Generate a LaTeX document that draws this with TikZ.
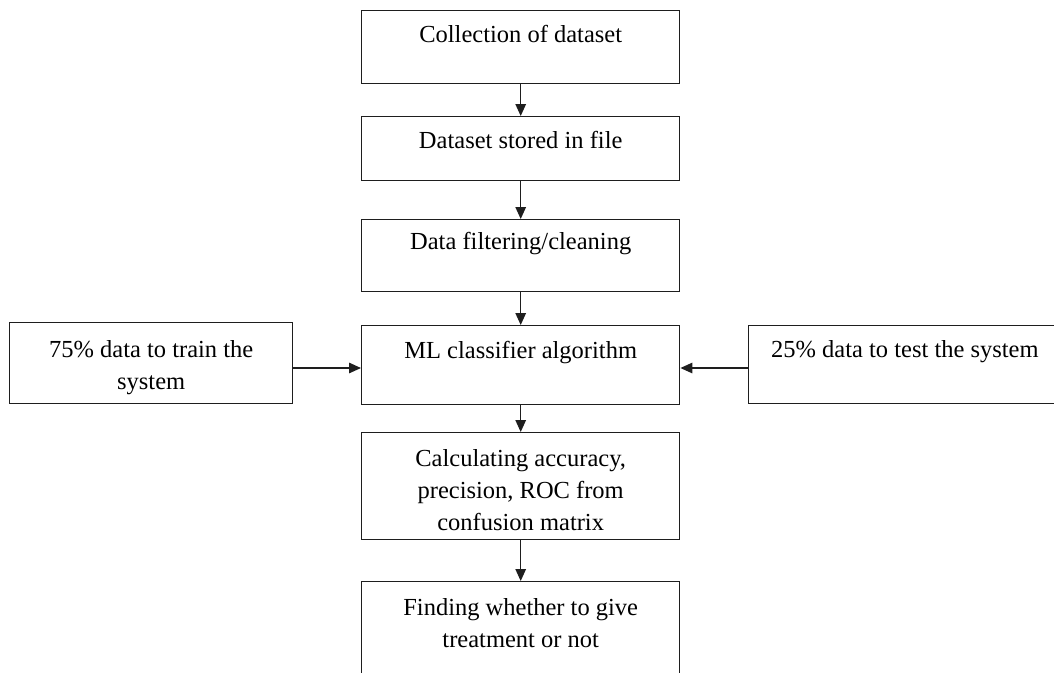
\documentclass[tikz,border=0pt]{standalone}
\usepackage{fontspec}
\setmainfont{Liberation Serif}
\usetikzlibrary{arrows.meta}
\definecolor{edge}{HTML}{1E1E1E}
\tikzset{
  box/.style={draw=edge, line width=1.4pt, inner sep=0pt, anchor=north west},
  txt/.style={anchor=base, inner sep=0pt, align=center, text=black,
    font=\fontsize{24.5}{32}\selectfont},
  arr/.style={draw=edge, line width=1.4pt, -{Triangle[length=12pt,width=10.5pt]}}
}
\begin{document}
\begin{tikzpicture}[x=1pt,y=-1pt]
\useasboundingbox (0,0) rectangle (1054,672);
\clip (0,0) rectangle (1054,672);
% boxes
\node[box, minimum width=318pt, minimum height=73pt]  (b1) at (361,10) {};
\node[box, minimum width=318pt, minimum height=64pt]  (b2) at (361,116) {};
\node[box, minimum width=318pt, minimum height=72pt]  (b3) at (361,219) {};
\node[box, minimum width=318pt, minimum height=79pt]  (b4) at (361,325) {};
\node[box, minimum width=283pt, minimum height=81pt]  (bl) at (9,322) {};
\node[box, minimum width=320pt, minimum height=78pt]  (br) at (748,325) {};
\node[box, minimum width=318pt, minimum height=107pt] (b5) at (361,432) {};
\node[box, minimum width=318pt, minimum height=120pt] (b6) at (361,581) {};
% texts
\node[txt] (t1) at ([yshift=-32pt]b1.north) {Collection of dataset};
\node[txt] (t2) at ([yshift=-32pt]b2.north) {Dataset stored in file};
\node[txt] (t3) at ([yshift=-30pt]b3.north) {Data filtering/cleaning};
\node[txt] (t4) at ([yshift=-33pt]b4.north) {ML classifier algorithm};
\node[txt] (tl) at ([yshift=-67pt]bl.north) {75\% data to train the\\system};
\node[txt, anchor=base west] (tr) at ([xshift=23pt,yshift=-32pt]br.north west) {25\% data to test the system};
\node[txt] (t5) at ([yshift=-98pt]b5.north) {Calculating accuracy,\\precision, ROC from\\confusion matrix};
\node[txt] (t6) at ([yshift=-66pt]b6.north) {Finding whether to give\\treatment or not};
% connectors
\draw[arr] (b1.south) -- (b2.north);
\draw[arr] (b2.south) -- (b3.north);
\draw[arr] (b3.south) -- (b4.north);
\draw[arr] (b4.south) -- (b5.north);
\draw[arr] (b5.south) -- (b6.north);
\draw[arr] (bl.east |- 0,368) -- (b4.west |- 0,368);
\draw[arr] (br.west |- 0,368) -- (b4.east |- 0,368);
\end{tikzpicture}
\end{document}
